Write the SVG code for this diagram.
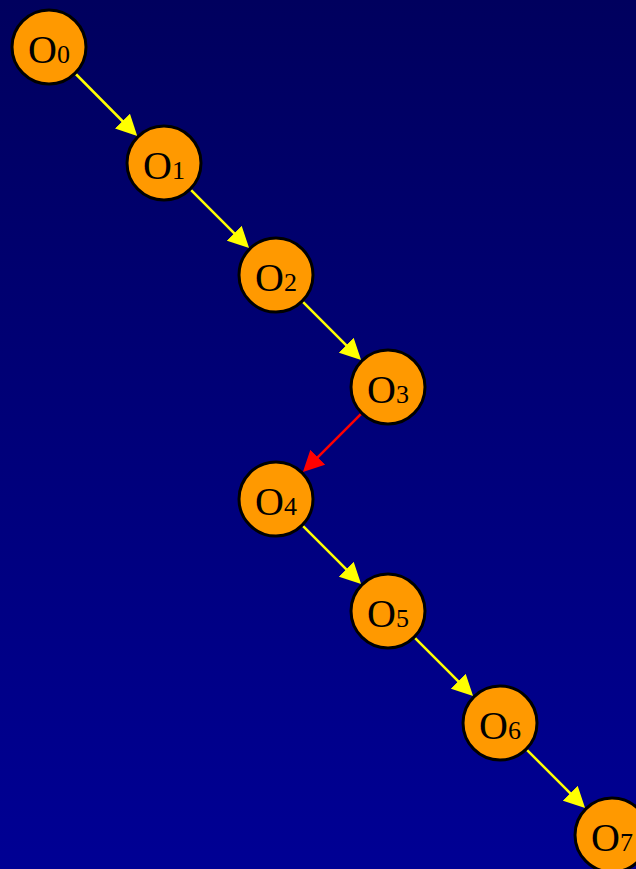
<svg xmlns="http://www.w3.org/2000/svg" width="636" height="869" viewBox="0 0 636 869">
<defs>
<linearGradient id="bg" x1="0" y1="0" x2="0" y2="1">
<stop offset="0" stop-color="#00005E"/>
<stop offset="1" stop-color="#000094"/>
</linearGradient>
<marker id="ay" viewBox="0 0 21 21" refX="9" refY="10.5" markerWidth="21" markerHeight="21" markerUnits="userSpaceOnUse" orient="auto">
<path d="M0,0 L21,10.5 L0,21 z" fill="#FFFF00"/>
</marker>
<marker id="ar" viewBox="0 0 21 21" refX="9" refY="10.5" markerWidth="21" markerHeight="21" markerUnits="userSpaceOnUse" orient="auto">
<path d="M0,0 L21,10.5 L0,21 z" fill="#FF0000"/>
</marker>
</defs>
<style>
.n circle{fill:#FF9900;stroke:#000;stroke-width:3}
.n text{font-family:"Liberation Serif","Times New Roman",serif;font-size:40px;fill:#000;text-anchor:middle}
.n tspan{font-size:26px}
.y{stroke:#FFFF00;stroke-width:2.5;fill:none;marker-end:url(#ay)}
.r{stroke:#FF0000;stroke-width:2.5;fill:none;marker-end:url(#ar)}
</style>
<rect width="636" height="869" fill="url(#bg)"/>
<g id="connectors">
<line class="y" x1="75.8" y1="74" x2="128.8" y2="127.5"/>
<line class="y" x1="190.9" y1="189.9" x2="240.6" y2="239.6"/>
<line class="y" x1="302.9" y1="301.9" x2="352.6" y2="351.6"/>
<line class="r" x1="361.1" y1="413.9" x2="311.4" y2="463.6"/>
<line class="y" x1="302.9" y1="525.9" x2="352.6" y2="575.6"/>
<line class="y" x1="414.9" y1="637.9" x2="464.6" y2="687.6"/>
<line class="y" x1="526.9" y1="749.9" x2="576.6" y2="799.6"/>
</g>
<g id="O0" class="n"><circle cx="49" cy="47" r="37"/><text x="49" y="63">O<tspan>0</tspan></text></g>
<g id="O1" class="n"><circle cx="164" cy="163" r="37"/><text x="164" y="179">O<tspan>1</tspan></text></g>
<g id="O2" class="n"><circle cx="276" cy="275" r="37"/><text x="276" y="291">O<tspan>2</tspan></text></g>
<g id="O3" class="n"><circle cx="388" cy="387" r="37"/><text x="388" y="403">O<tspan>3</tspan></text></g>
<g id="O4" class="n"><circle cx="276" cy="499" r="37"/><text x="276" y="515">O<tspan>4</tspan></text></g>
<g id="O5" class="n"><circle cx="388" cy="611" r="37"/><text x="388" y="627">O<tspan>5</tspan></text></g>
<g id="O6" class="n"><circle cx="500" cy="723" r="37"/><text x="500" y="739">O<tspan>6</tspan></text></g>
<g id="O7" class="n"><circle cx="612" cy="835" r="37"/><text x="612" y="851">O<tspan>7</tspan></text></g>
</svg>
